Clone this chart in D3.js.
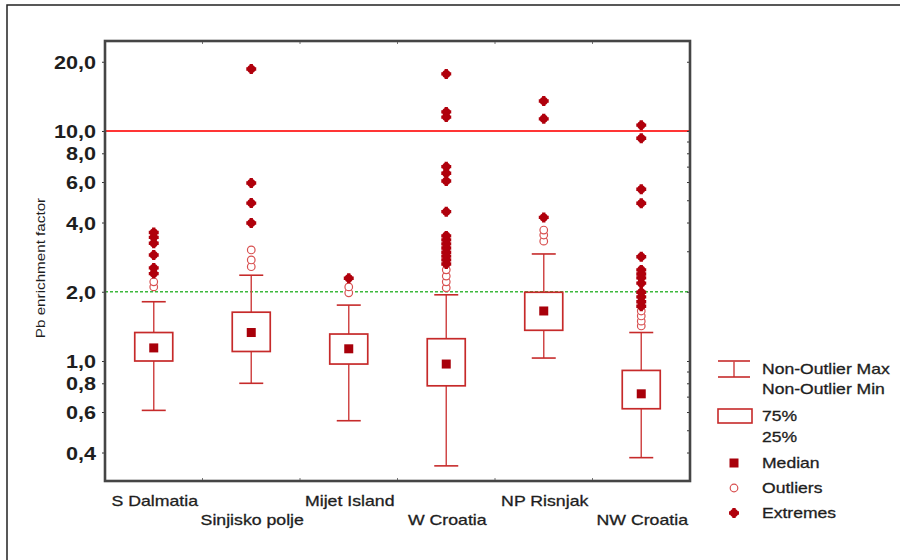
<!DOCTYPE html>
<html>
<head>
<meta charset="utf-8">
<script src="https://cdn.jsdelivr.net/npm/d3@7"></script>
<style>
  html, body { margin: 0; padding: 0; background: #fff; }
  svg { display: block; font-family: "Liberation Sans", Arial, sans-serif; }
</style>
</head>
<body>
<svg id="chart" width="900" height="560"></svg>
<script>
// Pb enrichment factor by region (box plot, log scale)
const categories = ["S Dalmatia", "Sinjisko polje", "Mijet Island", "W Croatia", "NP Risnjak", "NW Croatia"];
const whiskerMin = [0.61, 0.80, 0.55, 0.35, 1.03, 0.38];
const q1         = [1.00, 1.10, 0.97, 0.78, 1.36, 0.62];
const medians    = [1.14, 1.33, 1.13, 0.97, 1.65, 0.72];
const q3         = [1.33, 1.63, 1.31, 1.25, 1.99, 0.91];
const whiskerMax = [1.81, 2.36, 1.75, 1.94, 2.92, 1.33];
const outliers = [
  [2.10, 2.21],
  [2.57, 2.75, 3.04],
  [1.98, 2.10],
  [2.08, 2.21, 2.34, 2.49],
  [3.32, 3.53, 3.71],
  [1.42, 1.49, 1.57, 1.65]
];
const extremes = [
  [2.40, 2.54, 2.89, 3.25, 3.45, 3.62],
  [3.98, 4.86, 5.94, 18.6],
  [2.29],
  [2.64, 2.75, 2.86, 2.97, 3.10, 3.23, 3.36, 3.50, 4.46, 6.06, 6.55, 7.0, 11.5, 12.1, 17.7],
  [4.21, 11.3, 13.5],
  [1.73, 1.81, 1.90, 1.99, 2.18, 2.30, 2.39, 2.49, 2.84, 4.85, 5.58, 9.3, 10.6]
];
const yTicks = [0.4, 0.6, 0.8, 1, 2, 4, 6, 8, 10, 20];
const refLines = [10, 2];
const legendLabels = ["Non-Outlier Max", "Non-Outlier Min", "75%", "25%", "Median", "Outliers", "Extremes"];

const svg = d3.select("#chart");
const plot = { left: 105, right: 690, top: 41, bottom: 481 };

const RED_BOX = "#c62a2a";
const RED_WHISK = "#d04848";
const RED_DARK = "#b0000c";
const TEXT = "#1e1e1e";

// widen glyphs horizontally to the wide look of the original typesetting
function stretch(sel, k) {
  sel.each(function () {
    const l = this.getComputedTextLength();
    d3.select(this).attr("textLength", l * k).attr("lengthAdjust", "spacingAndGlyphs");
  });
}

// outer figure frame (only left and top edges are in view)
svg.append("rect")
  .attr("x", 7).attr("y", 5).attr("width", 940).attr("height", 600)
  .attr("fill", "none").attr("stroke", "#222").attr("stroke-width", 1.5);

const x = d3.scaleBand().domain(categories).range([plot.left, plot.right]).padding(0);
const y = d3.scaleLog().domain([0.3008, 24.62]).range([plot.bottom, plot.top]);
const cx = c => x(c) + x.bandwidth() / 2;

// reference lines
svg.append("line")
  .attr("x1", plot.left).attr("x2", plot.right)
  .attr("y1", y(refLines[0])).attr("y2", y(refLines[0]))
  .attr("stroke", "#ff3535").attr("stroke-width", 2);
svg.append("line")
  .attr("x1", plot.left).attr("x2", plot.right)
  .attr("y1", y(refLines[1])).attr("y2", y(refLines[1]))
  .attr("stroke", "#3cb83c").attr("stroke-width", 1.6).attr("stroke-dasharray", "3,2");

// axes
const fmt = d => d3.format(".1f")(d).replace(".", ",");
const leftAxis = svg.append("g")
  .attr("transform", `translate(${plot.left},0)`)
  .call(d3.axisLeft(y).tickValues(yTicks).tickFormat(fmt).tickSize(3).tickPadding(6));
leftAxis.select(".domain").remove();
leftAxis.selectAll(".tick line").attr("stroke", "#333");
leftAxis.selectAll(".tick text")
  .attr("font-size", 18).attr("font-weight", "bold").attr("fill", TEXT)
  .attr("font-family", "Liberation Sans, Arial, sans-serif")
  .attr("dy", "0.36em").call(stretch, 1.2);

const minorTicks = [];
[0.1, 1, 10].forEach(dec => { for (let m = 1; m <= 9; m++) { const v = dec * m; if (v >= 0.31 && v <= 24) minorTicks.push(v); } });
const rightAxis = svg.append("g")
  .attr("transform", `translate(${plot.right},0)`)
  .call(d3.axisLeft(y).tickValues(minorTicks).tickFormat("").tickSize(3));
rightAxis.select(".domain").remove();
rightAxis.selectAll(".tick line").attr("stroke", "#333");

const bounds = categories.slice(1).map(c => x(c));
[plot.top, plot.bottom].forEach((yy, i) => {
  svg.append("g").selectAll("line").data(bounds).join("line")
    .attr("x1", d => d).attr("x2", d => d)
    .attr("y1", yy).attr("y2", i === 0 ? yy + 3 : yy - 3)
    .attr("stroke", "#777").attr("stroke-width", 1);
});

// plot frame
svg.append("rect")
  .attr("x", plot.left).attr("y", plot.top)
  .attr("width", plot.right - plot.left).attr("height", plot.bottom - plot.top)
  .attr("fill", "none").attr("stroke", "#454545").attr("stroke-width", 2.6);

// boxes
const boxW = 38, capW = 24;
const groups = svg.append("g").selectAll("g").data(categories).join("g");
groups.each(function (c, i) {
  const g = d3.select(this);
  const xc = cx(c);
  // whiskers
  g.append("line").attr("x1", xc).attr("x2", xc)
    .attr("y1", y(whiskerMax[i])).attr("y2", y(q3[i]))
    .attr("stroke", RED_WHISK).attr("stroke-width", 1.5);
  g.append("line").attr("x1", xc).attr("x2", xc)
    .attr("y1", y(q1[i])).attr("y2", y(whiskerMin[i]))
    .attr("stroke", RED_WHISK).attr("stroke-width", 1.5);
  [whiskerMax[i], whiskerMin[i]].forEach(v => {
    g.append("line").attr("x1", xc - capW / 2).attr("x2", xc + capW / 2)
      .attr("y1", y(v)).attr("y2", y(v))
      .attr("stroke", RED_BOX).attr("stroke-width", 1.6);
  });
  // box
  g.append("rect")
    .attr("x", xc - boxW / 2).attr("y", y(q3[i]))
    .attr("width", boxW).attr("height", y(q1[i]) - y(q3[i]))
    .attr("fill", "#fff").attr("stroke", RED_BOX).attr("stroke-width", 1.7);
  // median
  g.append("rect")
    .attr("x", xc - 4.5).attr("y", y(medians[i]) - 4.5)
    .attr("width", 9).attr("height", 9).attr("fill", "#a8000a");
  // outliers
  g.selectAll("circle.out").data(outliers[i]).join("circle").attr("class", "out")
    .attr("cx", xc).attr("cy", d => y(d)).attr("r", 3.8)
    .attr("fill", "#fff").attr("stroke", "#d85050").attr("stroke-width", 1.2);
  // extremes
  const ex = g.selectAll("g.ext").data(extremes[i]).join("g").attr("class", "ext")
    .attr("transform", d => `translate(${xc},${y(d)})`);
  ex.append("circle").attr("r", 4).attr("fill", RED_DARK);
  ex.append("path").attr("d", d3.symbol(d3.symbolCross, 55)()).attr("fill", RED_DARK);
});

// category labels (staggered in two rows)
svg.append("g").selectAll("text").data(categories).join("text")
  .attr("x", c => cx(c) + 1)
  .attr("y", (c, i) => i % 2 === 0 ? 506 : 525)
  .attr("text-anchor", "middle").attr("font-size", 15).attr("fill", TEXT)
  .attr("stroke", TEXT).attr("stroke-width", 0.3)
  .text(c => c).call(stretch, 1.18);

// y-axis title
svg.append("text")
  .attr("transform", "translate(45,268) rotate(-90)")
  .attr("text-anchor", "middle").attr("font-size", 13).attr("fill", TEXT)
  .text("Pb enrichment factor").call(stretch, 1.17);

// legend
const lg = svg.append("g");
const lx = 734;
lg.append("line").attr("x1", lx - 16).attr("x2", lx + 16).attr("y1", 361).attr("y2", 361)
  .attr("stroke", RED_BOX).attr("stroke-width", 1.6);
lg.append("line").attr("x1", lx).attr("x2", lx).attr("y1", 361).attr("y2", 377)
  .attr("stroke", RED_WHISK).attr("stroke-width", 1.5);
lg.append("line").attr("x1", lx - 16).attr("x2", lx + 16).attr("y1", 377).attr("y2", 377)
  .attr("stroke", RED_BOX).attr("stroke-width", 1.6);
lg.append("rect").attr("x", 718).attr("y", 409).attr("width", 34).attr("height", 14)
  .attr("fill", "#fff").attr("stroke", RED_BOX).attr("stroke-width", 1.6);
lg.append("rect").attr("x", lx - 4.5).attr("y", 463 - 4.5).attr("width", 9).attr("height", 9)
  .attr("fill", "#a8000a");
lg.append("circle").attr("cx", lx).attr("cy", 488).attr("r", 3.8)
  .attr("fill", "#fff").attr("stroke", "#d85050").attr("stroke-width", 1.2);
const lex = lg.append("g").attr("transform", `translate(${lx},513)`);
lex.append("circle").attr("r", 4).attr("fill", RED_DARK);
lex.append("path").attr("d", d3.symbol(d3.symbolCross, 55)()).attr("fill", RED_DARK);

const legendY = [374, 394, 421, 442, 468, 493, 518];
lg.selectAll("text").data(legendLabels).join("text")
  .attr("x", 762).attr("y", (d, i) => legendY[i])
  .attr("font-size", 15).attr("fill", TEXT)
  .attr("stroke", TEXT).attr("stroke-width", 0.3)
  .text(d => d).call(stretch, 1.17);
</script>
</body>
</html>
